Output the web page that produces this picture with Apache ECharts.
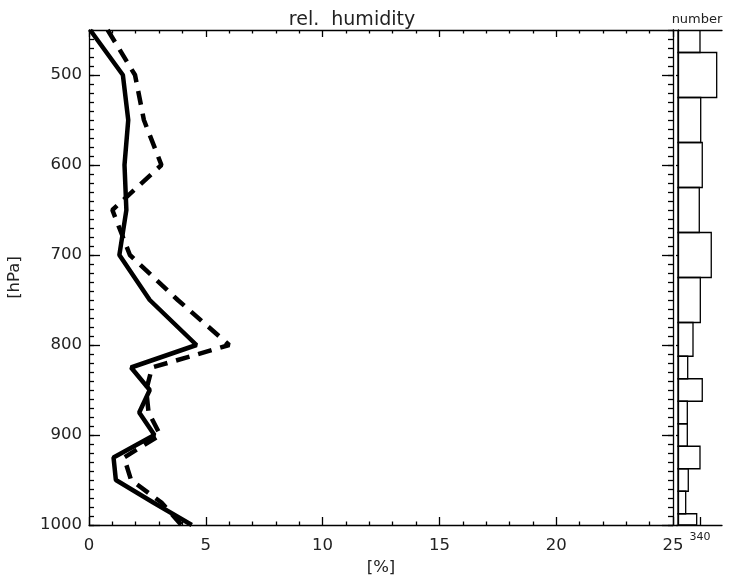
<!DOCTYPE html>
<html>
<head>
<meta charset="utf-8">
<script src="https://cdn.jsdelivr.net/npm/echarts@6/dist/echarts.min.js"></script>
<style>
  html, body { margin: 0; padding: 0; background: #fff; }
  #chart { width: 729px; height: 588px; }
</style>
</head>
<body>
<div id="chart"></div>
<script>
// pressure levels [hPa]
const levels = [450, 500, 550, 600, 650, 700, 750, 800, 825, 850, 875, 900, 925, 950, 975, 1000];
// rel. humidity [%], solid and dashed profiles
const rhSolid = [0.05, 1.45, 1.68, 1.52, 1.6, 1.3, 2.6, 4.6, 1.8, 2.6, 2.15, 2.8, 1.05, 1.15, 2.75, 4.4];
const rhDashed = [0.8, 1.97, 2.35, 3.1, 1.0, 1.75, 3.8, 6.0, 2.7, 2.45, 2.55, 3.05, 1.5, 1.8, 3.1, 3.95];
// number of values per level (right panel)
const counts = [340, 598, 351, 375, 329, 514, 345, 232, 150, 375, 144, 144, 340, 159, 119, 289];

const xTicks = [0, 5, 10, 15, 20, 25];
const pTicks = [500, 600, 700, 800, 900, 1000];
const histTicks = [340];

const FONT = 'DejaVu Sans';
const INK = '#000';

// bin edges half way between levels
const histData = levels.map((p, i) => {
  const top = i === 0 ? levels[0] : (levels[i - 1] + p) / 2;
  const bot = i === levels.length - 1 ? p : (levels[i + 1] + p) / 2;
  return [counts[i], top, bot];
});

const chart = echarts.init(document.getElementById('chart'));

const line = { color: INK, width: 1.3 };
const pAxis = { type: 'value', min: 450, max: 1000, inverse: true, splitLine: { show: false } };
const plain = v => String(v);

const option = {
  animation: false,
  backgroundColor: '#fff',
  grid: [
    { left: 89, top: 30, width: 584, height: 495, containLabel: false, outerBoundsMode: 'none' },
    { left: 673, top: 30, width: 49, height: 495, containLabel: false, outerBoundsMode: 'none' }
  ],
  xAxis: [
    {
      gridIndex: 0, type: 'value', position: 'bottom', min: 0, max: 25, interval: 5,
      axisLine: { lineStyle: line },
      axisTick: { inside: true, length: 8, lineStyle: line },
      minorTick: { show: true, splitNumber: 5, length: 3.5, lineStyle: line },
      splitLine: { show: false },
      axisLabel: { margin: 12, fontSize: 16.5, fontFamily: FONT, color: '#222', customValues: xTicks, formatter: plain },
      name: '[%]', nameLocation: 'middle', nameGap: 31,
      nameTextStyle: { fontSize: 16.5, fontFamily: FONT, color: '#222' }
    },
    {
      gridIndex: 0, type: 'value', position: 'top', min: 0, max: 25, interval: 5,
      axisLine: { lineStyle: line },
      axisTick: { inside: true, length: 7, lineStyle: line },
      minorTick: { show: true, splitNumber: 5, length: 3.5, lineStyle: line },
      splitLine: { show: false },
      axisLabel: { show: false }
    },
    {
      gridIndex: 1, type: 'value', position: 'bottom', min: -77, max: 680,
      axisLine: { lineStyle: line },
      axisTick: { inside: true, length: 8, lineStyle: line, customValues: histTicks },
      splitLine: { show: false },
      axisLabel: { margin: 7, fontSize: 11, fontFamily: FONT, color: '#222', customValues: histTicks, formatter: plain }
    },
    {
      gridIndex: 1, type: 'value', position: 'top', min: -77, max: 680,
      axisLine: { lineStyle: line },
      axisTick: { show: false },
      splitLine: { show: false },
      axisLabel: { show: false }
    }
  ],
  yAxis: [
    Object.assign({}, pAxis, {
      gridIndex: 0, position: 'left',
      axisLine: { lineStyle: line },
      axisTick: { inside: true, length: 11, lineStyle: line, customValues: pTicks },
      axisLabel: { margin: 7, fontSize: 16.5, fontFamily: FONT, color: '#222', customValues: pTicks, formatter: plain },
      name: '[hPa]', nameLocation: 'middle', nameGap: 66, nameRotate: 90,
      nameTextStyle: { fontSize: 16.5, fontFamily: FONT, color: '#222' }
    }),
    Object.assign({}, pAxis, {
      gridIndex: 0, position: 'left', interval: 10,
      axisLine: { show: false },
      axisTick: { inside: true, length: 5, lineStyle: line },
      axisLabel: { show: false }
    }),
    Object.assign({}, pAxis, {
      gridIndex: 0, position: 'right',
      axisLine: { lineStyle: line },
      axisTick: { inside: true, length: 11, lineStyle: line, customValues: pTicks },
      axisLabel: { show: false }
    }),
    Object.assign({}, pAxis, {
      gridIndex: 0, position: 'right', interval: 10,
      axisLine: { show: false },
      axisTick: { inside: true, length: 5, lineStyle: line },
      axisLabel: { show: false }
    }),
    Object.assign({}, pAxis, {
      gridIndex: 1, position: 'right',
      axisLine: { lineStyle: line },
      axisTick: { inside: true, length: 2, lineStyle: line, customValues: pTicks },
      axisLabel: { show: false }
    })
  ],
  graphic: [
    {
      type: 'text', x: 352, y: 20,
      style: { text: 'rel.  humidity', font: '19px "DejaVu Sans"', fill: '#222',
        align: 'center', verticalAlign: 'middle', textAlign: 'center', textVerticalAlign: 'middle' }
    },
    {
      type: 'text', x: 697, y: 20,
      style: { text: 'number', font: '13px "DejaVu Sans"', fill: '#222',
        align: 'center', verticalAlign: 'middle', textAlign: 'center', textVerticalAlign: 'middle' }
    }
  ],
  series: [
    {
      type: 'line', xAxisIndex: 0, yAxisIndex: 0, symbol: 'none',
      data: levels.map((p, i) => [rhSolid[i], p]),
      lineStyle: { color: INK, width: 4.5 }
    },
    {
      type: 'line', xAxisIndex: 0, yAxisIndex: 0, symbol: 'none',
      data: levels.map((p, i) => [rhDashed[i], p]),
      lineStyle: { color: INK, width: 4.5, type: [14, 9], cap: 'butt' }
    },
    {
      type: 'custom', xAxisIndex: 2, yAxisIndex: 4, clip: true,
      data: histData,
      encode: { x: 0, y: [1, 2] },
      renderItem: function (params, api) {
        const a = api.coord([0, api.value(1)]);
        const b = api.coord([api.value(0), api.value(2)]);
        return {
          type: 'rect',
          shape: { x: a[0], y: a[1], width: b[0] - a[0], height: b[1] - a[1] },
          style: { fill: 'none', stroke: INK, lineWidth: 1.3 }
        };
      }
    }
  ]
};

chart.setOption(option);
</script>
</body>
</html>
